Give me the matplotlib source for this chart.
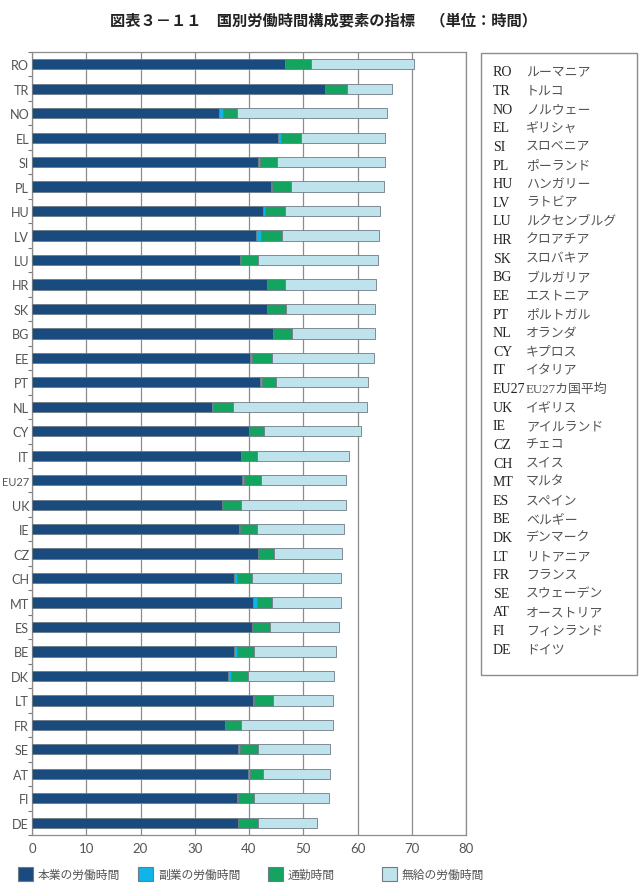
import matplotlib
matplotlib.use("Agg")
import matplotlib.pyplot as plt
from matplotlib.patches import Rectangle
import numpy as np

# data (hours per week), top to bottom as in the chart
countries = ["RO", "TR", "NO", "EL", "SI", "PL", "HU", "LV", "LU", "HR", "SK", "BG",
             "EE", "PT", "NL", "CY", "IT", "EU27", "UK", "IE", "CZ", "CH", "MT", "ES",
             "BE", "DK", "LT", "FR", "SE", "AT", "FI", "DE"]
names = ["ルーマニア", "トルコ", "ノルウェー", "ギリシャ", "スロベニア", "ポーランド",
         "ハンガリー", "ラトビア", "ルクセンブルグ", "クロアチア", "スロバキア", "ブルガリア",
         "エストニア", "ポルトガル", "オランダ", "キプロス", "イタリア", "EU27カ国平均",
         "イギリス", "アイルランド", "チェコ", "スイス", "マルタ", "スペイン", "ベルギー",
         "デンマーク", "リトアニア", "フランス", "スウェーデン", "オーストリア",
         "フィンランド", "ドイツ"]
main_job = [46.6, 54.1, 34.5, 45.4, 41.7, 44.1, 42.5, 41.3, 38.3, 43.3, 43.3, 44.5,
            40.1, 42.0, 33.2, 40.0, 38.6, 38.8, 35.0, 38.1, 41.6, 37.2, 40.7, 40.6,
            37.2, 36.1, 40.7, 35.6, 38.0, 39.9, 37.7, 37.9]
second_job = [0.0, 0.0, 0.7, 0.5, 0.4, 0.2, 0.4, 1.0, 0.2, 0.0, 0.0, 0.0,
              0.5, 0.4, 0.2, 0.0, 0.0, 0.2, 0.0, 0.2, 0.0, 0.5, 0.7, 0.0,
              0.5, 0.5, 0.3, 0.0, 0.3, 0.2, 0.3, 0.0]
commute = [4.8, 3.9, 2.5, 3.6, 3.0, 3.4, 3.7, 3.7, 3.1, 3.3, 3.6, 3.4,
           3.7, 2.6, 3.7, 2.7, 2.9, 3.2, 3.5, 3.1, 3.1, 2.8, 2.8, 3.2,
           3.2, 3.3, 3.4, 2.9, 3.3, 2.5, 3.0, 3.7]
unpaid = [19.0, 8.4, 27.7, 15.5, 19.9, 17.2, 17.6, 17.9, 22.2, 16.9, 16.4, 15.3,
          18.7, 16.9, 24.7, 17.9, 17.0, 15.7, 19.3, 16.2, 12.5, 16.5, 12.7, 12.7,
          15.2, 15.8, 11.0, 16.9, 13.4, 12.3, 13.7, 11.0]
series_labels = ["本業の労働時間", "副業の労働時間", "通勤時間", "無給の労働時間"]
series_colors = ["#1a4b7e", "#0fb4ea", "#13a55f", "#bfe3ec"]

W, H = 642, 895
fig = plt.figure(figsize=(W / 100, H / 100), dpi=100)
ax = fig.add_axes([32 / W, 1 - 836 / H, (466 - 32) / W, (836 - 53) / H])

y = np.arange(len(countries))
left = np.zeros(len(countries))
for vals, col in zip([main_job, second_job, commute, unpaid], series_colors):
    vals = np.array(vals)
    ax.barh(y, vals, left=left, height=0.42, color=col, edgecolor="#6f7b85",
            linewidth=0.6, zorder=3)
    left += vals

ax.set_xlim(0, 80)
ax.set_ylim(len(countries) - 0.5, -0.5)
ax.set_xticks(np.arange(0, 81, 10))
ax.set_yticks(y)
ax.set_yticklabels(countries)
ax.set_yticks(np.arange(-0.5, len(countries), 1), minor=True)
ax.tick_params(axis="y", which="major", length=0, pad=2, labelsize=9.1, labelcolor="#555555")
ax.tick_params(axis="y", which="minor", length=3, color="#777777", width=0.8)
ax.tick_params(axis="x", length=0, pad=5, labelsize=9.5, labelcolor="#555555")
for lab in ax.get_xticklabels() + ax.get_yticklabels():
    lab.set_family("Lato")
    if lab.get_text() == "EU27":
        lab.set_fontsize(8)  # keep it inside the figure edge
ax.grid(axis="x", color="#8c8c8c", linewidth=0.9, zorder=0)
for sp in ax.spines.values():
    sp.set_color("#8c8c8c")
    sp.set_linewidth(0.9)

# title
fig.text(323 / W, 1 - 20 / H, "図表３－１１　国別労働時間構成要素の指標　（単位：時間）",
         ha="center", va="center", fontsize=11, fontweight="bold",
         family=["Noto Sans CJK JP"], color="#222222")

# country name box on the right
fig.patches.append(Rectangle((481 / W, 1 - 676 / H), (637 - 481) / W, (676 - 54) / H,
                             transform=fig.transFigure, facecolor="white",
                             edgecolor="#8c8c8c", linewidth=1.0))
for i, (c, n) in enumerate(zip(countries, names)):
    yy = 1 - (73 + i * 18.62) / H
    fig.text(493 / W, yy, c, ha="left", va="center", fontsize=10,
             family=["Liberation Serif"], color="#222222")
    fig.text(526 / W, yy, n, ha="left", va="center", fontsize=9.3,
             family=["Liberation Serif", "Noto Sans CJK JP"], color="#555555")

# bottom legend
leg_x = [18, 138, 268, 382]
for lx, lab, col in zip(leg_x, series_labels, series_colors):
    fig.patches.append(Rectangle((lx / W, 1 - 882 / H), 15 / W, 14 / H,
                                 transform=fig.transFigure, facecolor=col,
                                 edgecolor="#6f7b85", linewidth=0.8))
    fig.text((lx + 20) / W, 1 - 875 / H, lab, ha="left", va="center", fontsize=8.5,
             family=["Noto Sans CJK JP"], color="#555555")

fig.savefig("out.png", dpi=100)
